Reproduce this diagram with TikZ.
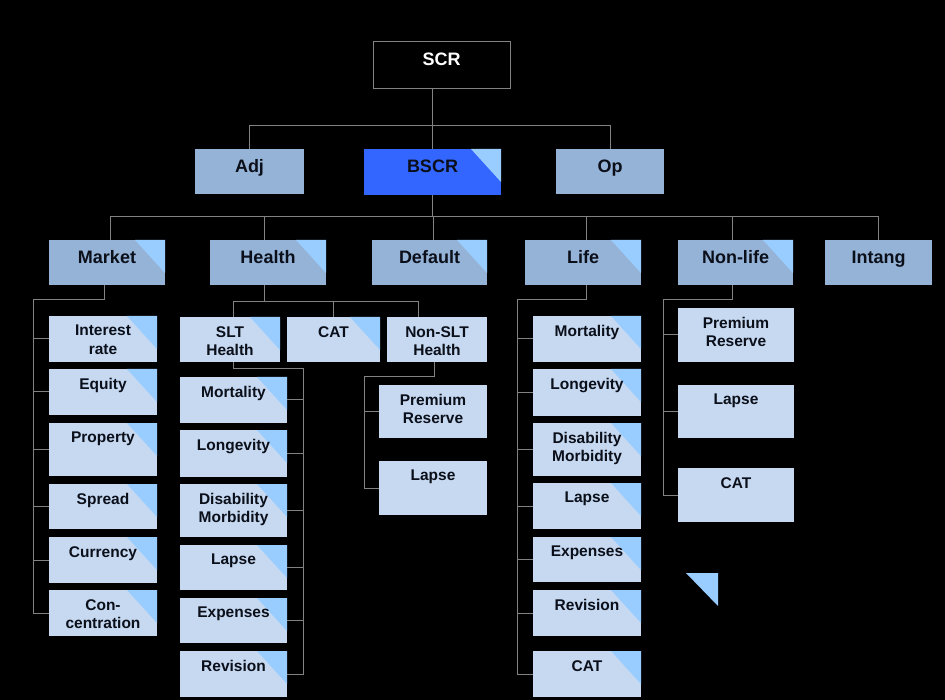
\documentclass[tikz,border=0pt]{standalone}
\usepackage{fontspec}
\setmainfont{Liberation Sans}
\definecolor{lvtwo}{HTML}{95B3D7}
\definecolor{lvthree}{HTML}{C6D9F1}
\definecolor{tric}{HTML}{99CCFF}
\definecolor{bscrc}{HTML}{3366FF}
\definecolor{linec}{HTML}{828282}
\definecolor{txtc}{HTML}{0B0F1A}
\tikzset{
  conn/.style={draw=linec, line width=1pt},
  boxA/.style={fill=lvtwo},
  boxB/.style={fill=lvthree},
  boxS/.style={fill=bscrc},
  boxTop/.style={fill=black, draw=linec, line width=1pt},
  tri/.style={fill=tric},
  bigtxt/.style={font=\bfseries\fontsize{18}{21}\selectfont, text=txtc, inner sep=0pt, anchor=north, align=center, yshift=-10.5pt},
  toptxt/.style={bigtxt, text=white},
  smalltxt/.style={font=\bfseries\fontsize{15.5}{18.5}\selectfont, text=txtc, inner sep=0pt, anchor=north, align=center, yshift=-9pt},
}
\newcommand\trg[1]{\fill[tri] ([xshift=-30pt]#1.north east) -- (#1.north east) -- ([yshift=-33pt]#1.north east) -- cycle;}
\newcommand\bx[9]{%
  \node[#2, inner sep=0pt, outer sep=0pt, minimum width={(#6-#4)*1pt}, minimum height={(#7-#5)*1pt}] (#1) at ({(#4+#6)/2},{(#5+#7)/2}) {};
  \ifnum#9=1 \trg{#1}\fi
  \node[#3] at (#1.north) {#8};
}
\begin{document}
\begin{tikzpicture}[x=1pt, y=-1pt]
\useasboundingbox (0,0) rectangle (945,700);
\fill[black] (0,0) rectangle (945,700);

% level 0 and 1
\bx{scr}{boxTop}{toptxt}{373}{42}{510}{89}{SCR}{0}
\bx{adj}{boxA}{bigtxt}{195}{149}{304}{194}{Adj}{0}
\bx{bscr}{boxS}{bigtxt}{364}{149}{501}{195}{BSCR}{1}
\bx{op}{boxA}{bigtxt}{556}{149}{664}{194}{Op}{0}

% level 2
\bx{market}{boxA}{bigtxt}{49}{240}{165}{285}{Market}{1}
\bx{health}{boxA}{bigtxt}{210}{240}{326}{285}{Health}{1}
\bx{default}{boxA}{bigtxt}{372}{240}{487}{285}{Default}{1}
\bx{life}{boxA}{bigtxt}{525}{240}{641}{285}{Life}{1}
\bx{nonlife}{boxA}{bigtxt}{678}{240}{793}{285}{Non-life}{1}
\bx{intang}{boxA}{bigtxt}{825}{240}{932}{285}{Intang}{0}

% market children
\bx{mi}{boxB}{smalltxt}{49}{316}{157}{362}{Interest\\rate}{1}
\bx{me}{boxB}{smalltxt}{49}{369}{157}{415}{Equity}{1}
\bx{mp}{boxB}{smalltxt}{49}{423}{157}{476}{Property}{1}
\bx{ms}{boxB}{smalltxt}{49}{484}{157}{529}{Spread}{1}
\bx{mc}{boxB}{smalltxt}{49}{537}{157}{583}{Currency}{1}
\bx{mk}{boxB}{smalltxt}{49}{590}{157}{636}{Con-\\centration}{1}

% health row
\bx{hslt}{boxB}{smalltxt}{180}{317}{280}{362}{SLT\\Health}{1}
\bx{hcat}{boxB}{smalltxt}{287}{317}{380}{362}{CAT}{1}
\bx{hnon}{boxB}{smalltxt}{387}{317}{487}{362}{Non-SLT\\Health}{0}

% SLT children
\bx{hm}{boxB}{smalltxt}{180}{377}{287}{423}{Mortality}{1}
\bx{hl}{boxB}{smalltxt}{180}{430}{287}{477}{Longevity}{1}
\bx{hd}{boxB}{smalltxt}{180}{484}{287}{537}{Disability\\Morbidity}{1}
\bx{hla}{boxB}{smalltxt}{180}{545}{287}{590}{Lapse}{1}
\bx{he}{boxB}{smalltxt}{180}{598}{287}{643}{Expenses}{1}
\bx{hr}{boxB}{smalltxt}{180}{651}{287}{697}{Revision}{1}

% Non-SLT children
\bx{np}{boxB}{smalltxt}{379}{385}{487}{438}{Premium\\Reserve}{0}
\bx{nl}{boxB}{smalltxt}{379}{461}{487}{515}{Lapse}{0}

% Life children
\bx{lm}{boxB}{smalltxt}{533}{316}{641}{362}{Mortality}{1}
\bx{ll}{boxB}{smalltxt}{533}{369}{641}{416}{Longevity}{1}
\bx{ld}{boxB}{smalltxt}{533}{423}{641}{476}{Disability\\Morbidity}{1}
\bx{lla}{boxB}{smalltxt}{533}{483}{641}{529}{Lapse}{1}
\bx{le}{boxB}{smalltxt}{533}{537}{641}{582}{Expenses}{1}
\bx{lr}{boxB}{smalltxt}{533}{590}{641}{636}{Revision}{1}
\bx{lc}{boxB}{smalltxt}{533}{651}{641}{697}{CAT}{1}

% Non-life children
\bx{fp}{boxB}{smalltxt}{678}{308}{794}{362}{Premium\\Reserve}{0}
\bx{fl}{boxB}{smalltxt}{678}{385}{794}{438}{Lapse}{0}
\bx{fc}{boxB}{smalltxt}{678}{468}{794}{522}{CAT}{0}

% lone triangle
\fill[tri] (686,573) -- (718,573) -- (718,606) -- cycle;

% connectors
\coordinate (busA) at (0,126);
\coordinate (busB) at (0,217);
\draw[conn] (bscr.north) -- (bscr.north |- scr.south);
\draw[conn] (adj.north) -- (adj.north |- busA) -| (op.north);
\draw[conn] (bscr.south) -- (bscr.south |- busB);
\draw[conn] ([xshift=3pt]market.north) -- ([xshift=3pt]market.north |- busB) -| (intang.north);
\draw[conn] ([xshift=-4pt]health.north) -- ([xshift=-4pt]health.north |- busB);
\draw[conn] ([xshift=4pt]default.north) -- ([xshift=4pt]default.north |- busB);
\draw[conn] ([xshift=3pt]life.north) -- ([xshift=3pt]life.north |- busB);
\draw[conn] ([xshift=-3pt]nonlife.north) -- ([xshift=-3pt]nonlife.north |- busB);

% market
\coordinate (busM) at (33,300);
\draw[conn] ([xshift=-3pt]market.south) -- ([xshift=-3pt]market.south |- busM) -| (busM |- mk.west) -- (mk.west);
\foreach \n in {mi,me,mp,ms,mc} \draw[conn] (busM |- \n.west) -- (\n.west);

% health
\coordinate (busH) at (0,302);
\draw[conn] ([xshift=-4pt]health.south) -- ([xshift=-4pt]health.south |- busH);
\draw[conn] ([xshift=3pt]hslt.north) -- ([xshift=3pt]hslt.north |- busH) -| ([xshift=-19pt]hnon.north);
\draw[conn] (hcat.north) -- (hcat.north |- busH);

% SLT
\coordinate (busS) at (303,369);
\draw[conn] ([xshift=3pt]hslt.south) -- ([xshift=3pt]hslt.south |- busS) -| (busS |- hr.east) -- (hr.east);
\foreach \n in {hm,hl,hd,hla,he} \draw[conn] (busS |- \n.east) -- (\n.east);

% Non-SLT
\coordinate (busN) at (364,377);
\draw[conn] ([xshift=-3pt]hnon.south) -- ([xshift=-3pt]hnon.south |- busN) -| (busN |- nl.west) -- (nl.west);
\draw[conn] (busN |- np.west) -- (np.west);

% Life
\coordinate (busL) at (517,300);
\draw[conn] ([xshift=3pt]life.south) -- ([xshift=3pt]life.south |- busL) -| (busL |- lc.west) -- (lc.west);
\foreach \n in {lm,ll,ld,lla,le,lr} \draw[conn] (busL |- \n.west) -- (\n.west);

% Non-life
\coordinate (busF) at (663,300);
\draw[conn] ([xshift=-3pt]nonlife.south) -- ([xshift=-3pt]nonlife.south |- busF) -| (busF |- fc.west) -- (fc.west);
\foreach \n in {fp,fl} \draw[conn] (busF |- \n.west) -- (\n.west);
\end{tikzpicture}
\end{document}
